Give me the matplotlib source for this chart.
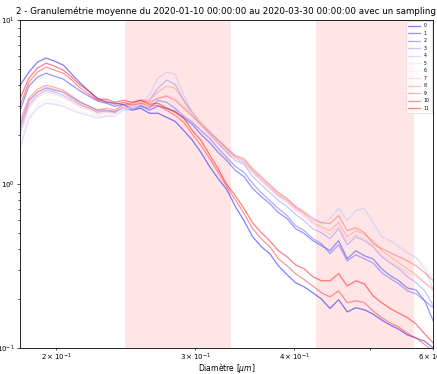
import matplotlib
matplotlib.use("Agg")
import matplotlib.pyplot as plt

diameters = [0.1801, 0.1847, 0.1894, 0.1942, 0.1991, 0.2042, 0.2094, 0.2147, 0.2201, 0.2257,
             0.2315, 0.2373, 0.2434, 0.2496, 0.2559, 0.2624, 0.2691, 0.2759, 0.2829, 0.2901,
             0.2975, 0.3050, 0.3128, 0.3207, 0.3289, 0.3372, 0.3458, 0.3546, 0.3636, 0.3728,
             0.3823, 0.3920, 0.4020, 0.4122, 0.4227, 0.4334, 0.4444, 0.4557, 0.4673, 0.4792,
             0.4913, 0.5038, 0.5166, 0.5297, 0.5432, 0.5570, 0.5711, 0.5856, 0.6005]

s0 = [4.00, 4.81, 5.53, 5.86, 5.61, 5.31, 4.67, 4.12, 3.68, 3.33, 3.15, 3.11, 3.06, 2.82, 2.90, 2.70, 2.70,
      2.55, 2.41, 2.12, 1.85, 1.56, 1.28, 1.08, 0.925, 0.729, 0.598, 0.477, 0.415, 0.376, 0.317, 0.280,
      0.250, 0.236, 0.217, 0.199, 0.174, 0.197, 0.166, 0.176, 0.171, 0.161, 0.148, 0.138, 0.130, 0.120,
      0.115, 0.110, 0.0999]
s1 = [2.82, 3.95, 4.48, 4.74, 4.54, 4.36, 4.00, 3.68, 3.43, 3.20, 3.11, 2.98, 3.06, 2.90, 3.02, 2.82, 2.98,
      2.90, 2.78, 2.52, 2.31, 2.01, 1.79, 1.56, 1.39, 1.21, 1.11, 0.939, 0.839, 0.760, 0.670, 0.616,
      0.534, 0.499, 0.451, 0.421, 0.392, 0.451, 0.350, 0.392, 0.365, 0.350, 0.304, 0.276, 0.257, 0.232,
      0.226, 0.194, 0.146]
s2 = [2.28, 3.24, 3.63, 3.84, 3.73, 3.63, 3.38, 3.15, 2.98, 2.82, 2.82, 2.74, 2.90, 2.82, 2.98, 2.90, 3.24,
      3.15, 2.90, 2.59, 2.38, 2.12, 1.90, 1.65, 1.45, 1.28, 1.18, 1.01, 0.886, 0.793, 0.709, 0.642,
      0.557, 0.520, 0.464, 0.433, 0.376, 0.426, 0.340, 0.370, 0.350, 0.330, 0.288, 0.265, 0.246, 0.223,
      0.214, 0.194, 0.176]
s3 = [2.12, 3.02, 3.48, 3.73, 3.63, 3.48, 3.24, 3.02, 2.90, 2.74, 2.78, 2.74, 2.94, 2.90, 3.06, 3.24, 3.84,
      4.30, 4.06, 3.24, 2.62, 2.28, 2.01, 1.77, 1.56, 1.39, 1.32, 1.11, 0.992, 0.886, 0.793, 0.729,
      0.651, 0.598, 0.534, 0.505, 0.464, 0.534, 0.426, 0.477, 0.451, 0.415, 0.360, 0.330, 0.304, 0.272,
      0.250, 0.223, 0.181]
s4 = [1.67, 2.52, 2.90, 3.11, 3.06, 2.98, 2.82, 2.70, 2.62, 2.52, 2.59, 2.59, 2.82, 2.82, 3.06, 3.48, 4.42,
      4.81, 4.67, 3.48, 2.74, 2.31, 2.01, 1.79, 1.60, 1.45, 1.35, 1.18, 1.05, 0.939, 0.851, 0.793,
      0.718, 0.670, 0.598, 0.581, 0.616, 0.709, 0.598, 0.689, 0.709, 0.581, 0.477, 0.451, 0.415, 0.381,
      0.355, 0.304, 0.229]
s5 = [1.60, 2.45, 2.90, 3.15, 3.11, 2.98, 2.82, 2.70, 2.62, 2.55, 2.62, 2.62, 2.82, 2.90, 3.06, 3.24, 3.63,
      3.84, 3.63, 3.06, 2.62, 2.31, 2.06, 1.85, 1.65, 1.49, 1.39, 1.21, 1.08, 0.979, 0.886, 0.816,
      0.739, 0.689, 0.633, 0.616, 0.651, 0.729, 0.616, 0.670, 0.651, 0.581, 0.505, 0.464, 0.426, 0.392,
      0.360, 0.321, 0.276]
s6 = [1.72, 2.62, 3.06, 3.29, 3.24, 3.11, 2.94, 2.78, 2.70, 2.59, 2.66, 2.66, 2.90, 2.94, 3.11, 3.15, 3.43,
      3.63, 3.43, 2.98, 2.59, 2.28, 2.04, 1.82, 1.63, 1.47, 1.39, 1.21, 1.08, 0.965, 0.875, 0.804,
      0.729, 0.679, 0.616, 0.598, 0.598, 0.670, 0.565, 0.616, 0.598, 0.534, 0.464, 0.426, 0.392, 0.360,
      0.330, 0.304, 0.265]
s7 = [1.98, 2.90, 3.38, 3.63, 3.53, 3.38, 3.15, 2.94, 2.82, 2.66, 2.74, 2.70, 2.94, 2.98, 3.15, 3.11, 3.33,
      3.48, 3.33, 2.98, 2.62, 2.31, 2.04, 1.79, 1.60, 1.43, 1.35, 1.18, 1.05, 0.939, 0.839, 0.771,
      0.689, 0.633, 0.565, 0.534, 0.491, 0.549, 0.451, 0.491, 0.464, 0.421, 0.370, 0.340, 0.313, 0.288,
      0.272, 0.250, 0.223]
s8 = [2.19, 3.15, 3.63, 3.89, 3.78, 3.63, 3.33, 3.06, 2.90, 2.74, 2.82, 2.78, 3.02, 3.06, 3.24, 3.24, 3.63,
      3.95, 3.84, 3.24, 2.74, 2.38, 2.09, 1.85, 1.65, 1.47, 1.39, 1.21, 1.08, 0.965, 0.862, 0.793,
      0.709, 0.651, 0.581, 0.549, 0.520, 0.581, 0.477, 0.520, 0.491, 0.451, 0.392, 0.360, 0.330, 0.304,
      0.280, 0.250, 0.229]
s9 = [2.45, 3.33, 3.78, 4.00, 3.89, 3.73, 3.43, 3.15, 2.98, 2.82, 2.90, 2.82, 3.06, 3.11, 3.24, 3.15, 3.33,
      3.43, 3.24, 2.90, 2.59, 2.31, 2.06, 1.85, 1.65, 1.49, 1.43, 1.24, 1.11, 0.992, 0.886, 0.816,
      0.729, 0.670, 0.616, 0.581, 0.573, 0.642, 0.520, 0.541, 0.505, 0.433, 0.404, 0.381, 0.360, 0.340,
      0.317, 0.288, 0.257]
s10 = [3.02, 4.17, 4.81, 5.16, 4.95, 4.74, 4.30, 3.84, 3.53, 3.24, 3.20, 3.06, 3.15, 3.02, 3.11, 2.98, 3.02,
       2.82, 2.62, 2.38, 2.01, 1.72, 1.43, 1.18, 0.965, 0.804, 0.661, 0.534, 0.464, 0.415, 0.350, 0.317,
       0.284, 0.261, 0.239, 0.217, 0.205, 0.223, 0.189, 0.194, 0.189, 0.168, 0.153, 0.142, 0.134, 0.123,
       0.115, 0.105, 0.0959]
s11 = [3.33, 4.42, 5.09, 5.46, 5.23, 4.95, 4.48, 4.00, 3.68, 3.29, 3.29, 3.15, 3.24, 3.15, 3.24, 3.06, 3.11,
       2.90, 2.74, 2.52, 2.12, 1.85, 1.51, 1.24, 0.992, 0.851, 0.709, 0.581, 0.505, 0.451, 0.392, 0.360,
       0.321, 0.304, 0.272, 0.257, 0.257, 0.284, 0.239, 0.257, 0.246, 0.208, 0.189, 0.174, 0.163, 0.153,
       0.140, 0.122, 0.107]

series = [s0, s1, s2, s3, s4, s5, s6, s7, s8, s9, s10, s11]
labels = [str(i) for i in range(12)]

shaded_ranges = [(0.2446, 0.333), (0.427, 0.568)]

title = "2 - Granulemétrie moyenne du 2020-01-10 00:00:00 au 2020-03-30 00:00:00 avec un sampling"

fig = plt.figure(figsize=(4.37, 3.74), dpi=100)
ax = fig.add_axes([20 / 437, 26 / 374, 413 / 437, 328 / 374])

for lo, hi in shaded_ranges:
    ax.axvspan(lo, hi, color="red", alpha=0.1, lw=0)

cmap = plt.cm.bwr
n = len(series)
for i, (vals, lab) in enumerate(zip(series, labels)):
    ax.plot(diameters, vals, color=cmap(i / (n - 1)), alpha=0.5, lw=0.9, label=lab)

ax.set_xscale("log")
ax.set_yscale("log")
ax.set_xlim(0.18, 0.6)
ax.set_ylim(0.1, 10)

ax.tick_params(which="both", labelsize=5, width=0.5)
ax.tick_params(which="major", length=2.5, pad=1.5)
ax.tick_params(which="minor", length=1.5, pad=1.5)
for sp in ax.spines.values():
    sp.set_linewidth(0.6)

ax.set_xlabel(r"Diamètre [$\mu m$]", fontsize=5.5)
ax.xaxis.set_label_coords(0.5, -0.039)
ax.set_title(title, fontsize=6.3, pad=4)

leg = ax.legend(loc="upper right", fontsize=3.3, handlelength=2.6, borderaxespad=0.3,
                labelspacing=0.55, frameon=True, framealpha=0.8)
leg.get_frame().set_linewidth(0.4)

fig.savefig("out.png", dpi=100)
